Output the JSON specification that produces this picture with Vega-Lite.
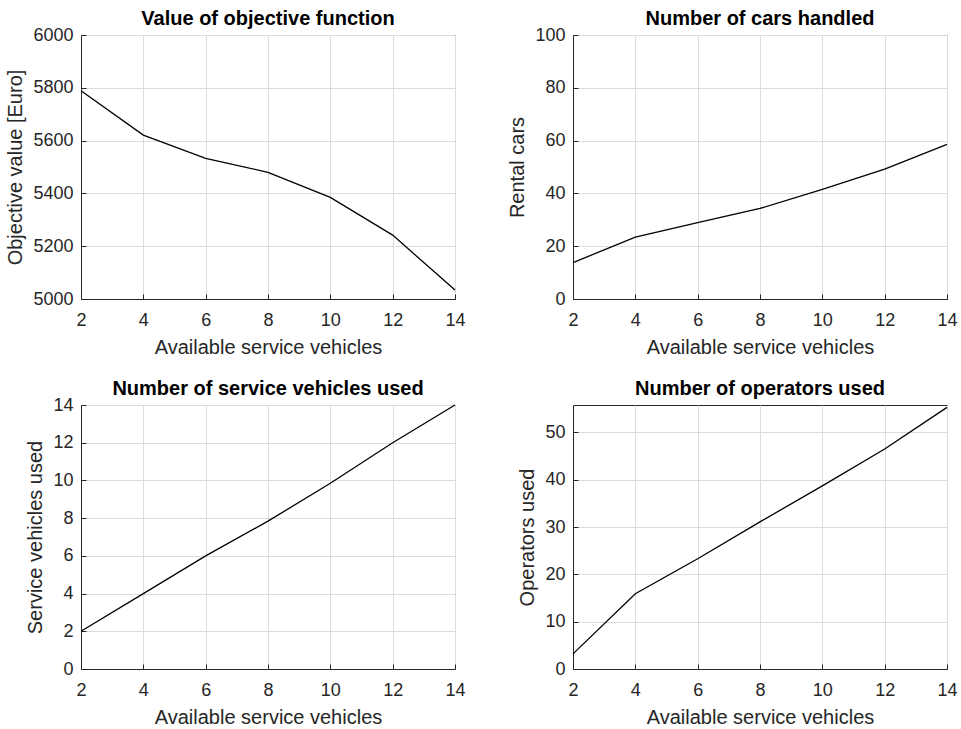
{
  "$schema": "https://vega.github.io/schema/vega-lite/v6.json",
  "background": "white",
  "padding": {"left": 5, "top": 8, "right": 5, "bottom": 0},
  "data": {"values": [
    {"available": 2, "objective": 5789, "cars": 13.8, "vehicles": 2.0, "operators": 3.2},
    {"available": 4, "objective": 5621, "cars": 23.4, "vehicles": 4.0, "operators": 15.9},
    {"available": 6, "objective": 5533, "cars": 28.9, "vehicles": 6.0, "operators": 23.3},
    {"available": 8, "objective": 5480, "cars": 34.3, "vehicles": 7.84, "operators": 31.1},
    {"available": 10, "objective": 5385, "cars": 41.5, "vehicles": 9.85, "operators": 38.7},
    {"available": 12, "objective": 5242, "cars": 49.2, "vehicles": 12.0, "operators": 46.5},
    {"available": 14, "objective": 5034, "cars": 58.6, "vehicles": 14.0, "operators": 55.3}
  ]},
  "columns": 2,
  "spacing": {"column": 41, "row": 20},
  "concat": [
    {
      "title": {"text": "Value of objective function", "offset": -3},
      "width": 374, "height": 264,
      "mark": {"type": "line", "color": "#000000", "strokeWidth": 1.3},
      "encoding": {
        "x": {"field": "available", "type": "quantitative", "title": "Available service vehicles",
              "scale": {"domain": [2, 14], "nice": false, "zero": false},
              "axis": {"values": [2, 4, 6, 8, 10, 12, 14]}},
        "y": {"field": "objective", "type": "quantitative", "title": "Objective value [Euro]",
              "scale": {"domain": [5000, 6000], "nice": false, "zero": false},
              "axis": {"values": [5000, 5200, 5400, 5600, 5800, 6000]}}
      }
    },
    {
      "title": {"text": "Number of cars handled", "offset": -3},
      "width": 374, "height": 264,
      "mark": {"type": "line", "color": "#000000", "strokeWidth": 1.3},
      "encoding": {
        "x": {"field": "available", "type": "quantitative", "title": "Available service vehicles",
              "scale": {"domain": [2, 14], "nice": false, "zero": false},
              "axis": {"values": [2, 4, 6, 8, 10, 12, 14]}},
        "y": {"field": "cars", "type": "quantitative", "title": "Rental cars",
              "scale": {"domain": [0, 100], "nice": false},
              "axis": {"values": [0, 20, 40, 60, 80, 100]}}
      }
    },
    {
      "title": {"text": "Number of service vehicles used", "offset": -3},
      "width": 374, "height": 264,
      "mark": {"type": "line", "color": "#000000", "strokeWidth": 1.3},
      "encoding": {
        "x": {"field": "available", "type": "quantitative", "title": "Available service vehicles",
              "scale": {"domain": [2, 14], "nice": false, "zero": false},
              "axis": {"values": [2, 4, 6, 8, 10, 12, 14]}},
        "y": {"field": "vehicles", "type": "quantitative", "title": "Service vehicles used",
              "scale": {"domain": [0, 14], "nice": false},
              "axis": {"values": [0, 2, 4, 6, 8, 10, 12, 14]}}
      }
    },
    {
      "title": {"text": "Number of operators used", "offset": 6},
      "width": 374, "height": 264,
      "mark": {"type": "line", "color": "#000000", "strokeWidth": 1.3},
      "encoding": {
        "x": {"field": "available", "type": "quantitative", "title": "Available service vehicles",
              "scale": {"domain": [2, 14], "nice": false, "zero": false},
              "axis": {"values": [2, 4, 6, 8, 10, 12, 14]}},
        "y": {"field": "operators", "type": "quantitative", "title": "Operators used",
              "scale": {"domain": [0, 55.8], "nice": false},
              "axis": {"values": [0, 10, 20, 30, 40, 50]}}
      }
    }
  ],
  "config": {
    "font": "Liberation Sans",
    "view": {"stroke": "#262626", "strokeWidth": 1},
    "title": {"fontSize": 20, "fontWeight": "bold", "color": "#000000", "anchor": "middle", "frame": "group", "baseline": "alphabetic", "font": "Liberation Sans"},
    "axis": {
      "labelFontSize": 18, "titleFontSize": 20, "titleFontWeight": "normal",
      "labelColor": "#262626", "titleColor": "#262626",
      "domainColor": "#262626", "domainWidth": 1,
      "gridColor": "#dcdcdc", "gridWidth": 1,
      "ticks": true, "tickSize": -5, "tickColor": "#262626",
      "format": "d", "labelFlush": false, "labelBound": false,
      "labelPadding": 13, "titlePadding": 7,
      "labelFont": "Liberation Sans", "titleFont": "Liberation Sans"
    },
    "axisX": {"labelPadding": 17, "titlePadding": 8}
  }
}
